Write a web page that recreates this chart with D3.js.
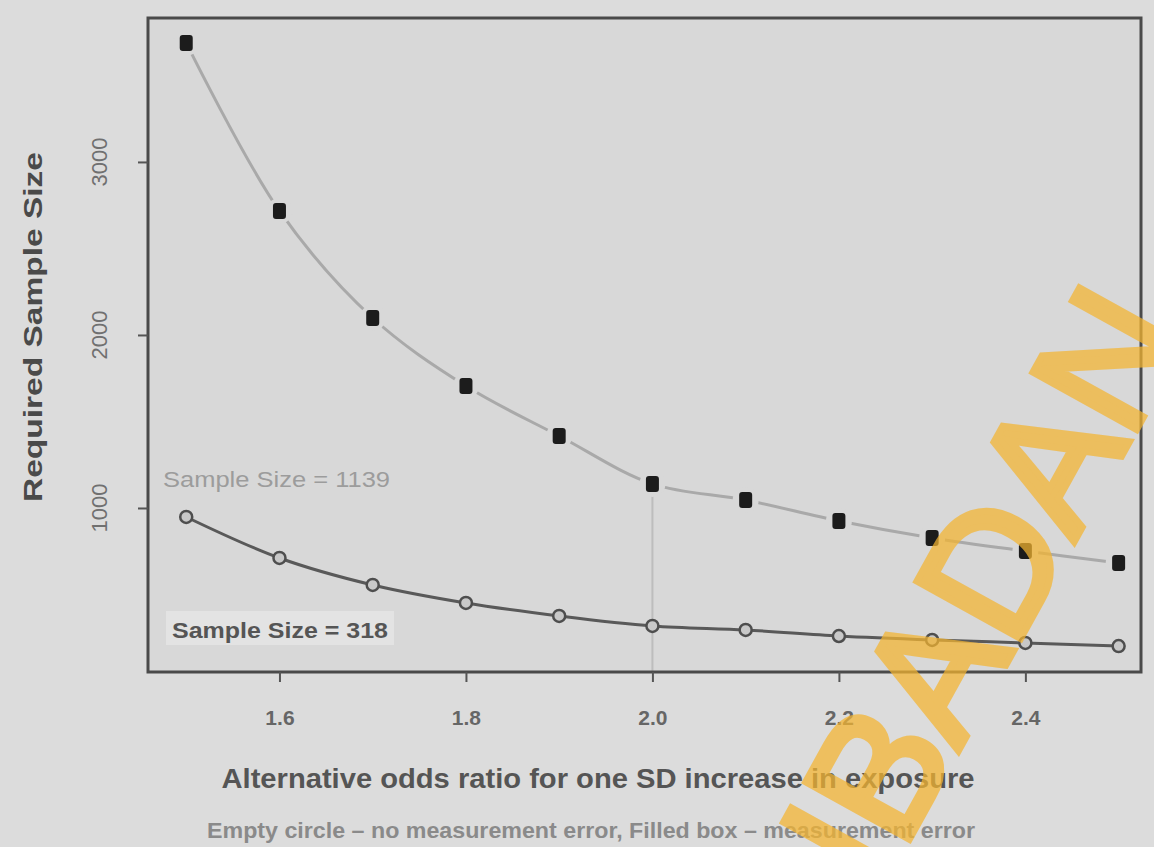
<!DOCTYPE html>
<html>
<head>
<meta charset="utf-8">
<script src="https://cdn.jsdelivr.net/npm/d3@7"></script>
<style>
  html, body { margin: 0; padding: 0; background: #dcdcdc; }
  svg { display: block; }
  text { font-family: "Liberation Sans", Arial, sans-serif; }
</style>
</head>
<body>
<svg id="chart" width="1154" height="847"></svg>
<script>
// Alternative odds ratios (per SD increase in exposure)
const oddsRatio = [1.5, 1.6, 1.7, 1.8, 1.9, 2.0, 2.1, 2.2, 2.3, 2.4, 2.5];
// Required sample size, exposure measured with error (filled boxes)
const withError = [3688, 2717, 2098, 1705, 1416, 1139, 1046, 925, 827, 751, 682];
// Required sample size, no measurement error (empty circles)
const noError = [948, 711, 555, 451, 376, 318, 295, 260, 237, 220, 202];
const xTicks = [1.6, 1.8, 2.0, 2.2, 2.4];
const yTicks = [1000, 2000, 3000];
const refOR = 2.0;

const svg = d3.select("#chart");
const W = 1154, H = 847;
const plot = { left: 148, right: 1141, top: 18, bottom: 672 };

const x = d3.scaleLinear().domain([1.459, 2.524]).range([plot.left, plot.right]);
const y = d3.scaleLinear().domain([52, 3832]).range([plot.bottom, plot.top]);

svg.append("rect").attr("width", W).attr("height", H).attr("fill", "#dcdcdc");
svg.append("rect")
  .attr("x", plot.left).attr("y", plot.top)
  .attr("width", plot.right - plot.left).attr("height", plot.bottom - plot.top)
  .attr("fill", "#d8d8d8");

const boxes = oddsRatio.map((o, i) => ({ o, v: withError[i] }));
const circles = oddsRatio.map((o, i) => ({ o, v: noError[i] }));
const refIdx = oddsRatio.indexOf(refOR);

// reference line at OR = 2.0
svg.append("line")
  .attr("x1", x(refOR)).attr("x2", x(refOR))
  .attr("y1", y(withError[refIdx])).attr("y2", plot.bottom)
  .attr("stroke", "#bdbdbd").attr("stroke-width", 2);

const line = d3.line().x(d => x(d.o)).y(d => y(d.v)).curve(d3.curveCatmullRom);

// measurement-error curve (light, broken around markers)
svg.append("path").datum(boxes)
  .attr("d", line).attr("fill", "none")
  .attr("stroke", "#a9a9a9").attr("stroke-width", 3);
svg.selectAll("circle.gap").data(boxes).join("circle")
  .attr("class", "gap")
  .attr("cx", d => x(d.o)).attr("cy", d => y(d.v)).attr("r", 13)
  .attr("fill", "#d8d8d8");

// no-error curve
svg.append("path").datum(circles)
  .attr("d", line).attr("fill", "none")
  .attr("stroke", "#595959").attr("stroke-width", 3);

svg.selectAll("rect.box").data(boxes).join("rect")
  .attr("class", "box")
  .attr("x", d => x(d.o) - 6.5).attr("y", d => y(d.v) - 8)
  .attr("width", 13).attr("height", 16).attr("rx", 3)
  .attr("fill", "#1c1c1c");

svg.selectAll("circle.pt").data(circles).join("circle")
  .attr("class", "pt")
  .attr("cx", d => x(d.o)).attr("cy", d => y(d.v)).attr("r", 6)
  .attr("fill", "#c8c8c8").attr("stroke", "#4e4e4e").attr("stroke-width", 2.5);

// annotations
svg.append("text")
  .attr("x", 163).attr("y", 487)
  .attr("font-size", 22).attr("fill", "#9c9c9c")
  .attr("textLength", 227).attr("lengthAdjust", "spacingAndGlyphs")
  .text("Sample Size = " + withError[refIdx]);
svg.append("rect")
  .attr("x", 166).attr("y", 611).attr("width", 228).attr("height", 34)
  .attr("fill", "#e3e3e3");
svg.append("text")
  .attr("x", 172).attr("y", 638)
  .attr("font-size", 22).attr("font-weight", "bold").attr("fill", "#555")
  .attr("textLength", 216).attr("lengthAdjust", "spacingAndGlyphs")
  .text("Sample Size = " + noError[refIdx]);

// frame
svg.append("rect")
  .attr("x", plot.left).attr("y", plot.top)
  .attr("width", plot.right - plot.left).attr("height", plot.bottom - plot.top)
  .attr("fill", "none").attr("stroke", "#4a4a4a").attr("stroke-width", 3);

// x axis
const gx = svg.append("g").attr("transform", `translate(0,${plot.bottom})`)
  .call(d3.axisBottom(x).tickValues(xTicks).tickFormat(d3.format(".1f"))
    .tickSize(10).tickPadding(28));
gx.select(".domain").remove();
gx.selectAll(".tick line").attr("stroke", "#555").attr("stroke-width", 2);
gx.selectAll(".tick text")
  .attr("font-size", 21).attr("font-weight", "bold").attr("fill", "#666")
  .attr("font-family", "Liberation Sans, Arial, sans-serif");

// y axis
const gy = svg.append("g").attr("transform", `translate(${plot.left},0)`)
  .call(d3.axisLeft(y).tickValues(yTicks).tickFormat("").tickSize(10));
gy.select(".domain").remove();
gy.selectAll(".tick line").attr("stroke", "#555").attr("stroke-width", 2);
svg.selectAll("text.ylab").data(yTicks).join("text")
  .attr("class", "ylab")
  .attr("transform", d => `translate(107,${y(d)}) rotate(-90)`)
  .attr("text-anchor", "middle")
  .attr("font-size", 22).attr("fill", "#707070")
  .text(d => d);

// axis titles
svg.append("text")
  .attr("transform", "translate(42,327) rotate(-90)")
  .attr("text-anchor", "middle")
  .attr("font-size", 25).attr("font-weight", "bold").attr("fill", "#4a4a4a")
  .attr("textLength", 350).attr("lengthAdjust", "spacingAndGlyphs")
  .text("Required Sample Size");
svg.append("text")
  .attr("x", 598).attr("y", 788)
  .attr("text-anchor", "middle")
  .attr("font-size", 28).attr("font-weight", "bold").attr("fill", "#555")
  .attr("textLength", 753).attr("lengthAdjust", "spacingAndGlyphs")
  .text("Alternative odds ratio for one SD increase in exposure");
svg.append("text")
  .attr("x", 591).attr("y", 838)
  .attr("text-anchor", "middle")
  .attr("font-size", 22).attr("font-weight", "bold").attr("fill", "#8a8a8a")
  .attr("textLength", 768).attr("lengthAdjust", "spacingAndGlyphs")
  .text("Empty circle \u2013 no measurement error, Filled box \u2013 measurement error");

// watermark
svg.append("g").attr("opacity", 0.72)
  .append("text")
  .attr("transform", "translate(982,584) rotate(-61)")
  .attr("text-anchor", "middle")
  .attr("dy", "0.35em")
  .attr("font-size", 172)
  .attr("fill", "#f5b530").attr("stroke", "#f5b530")
  .attr("stroke-width", 7).attr("stroke-linejoin", "miter")
  .text("IBADAN");
</script>
</body>
</html>
